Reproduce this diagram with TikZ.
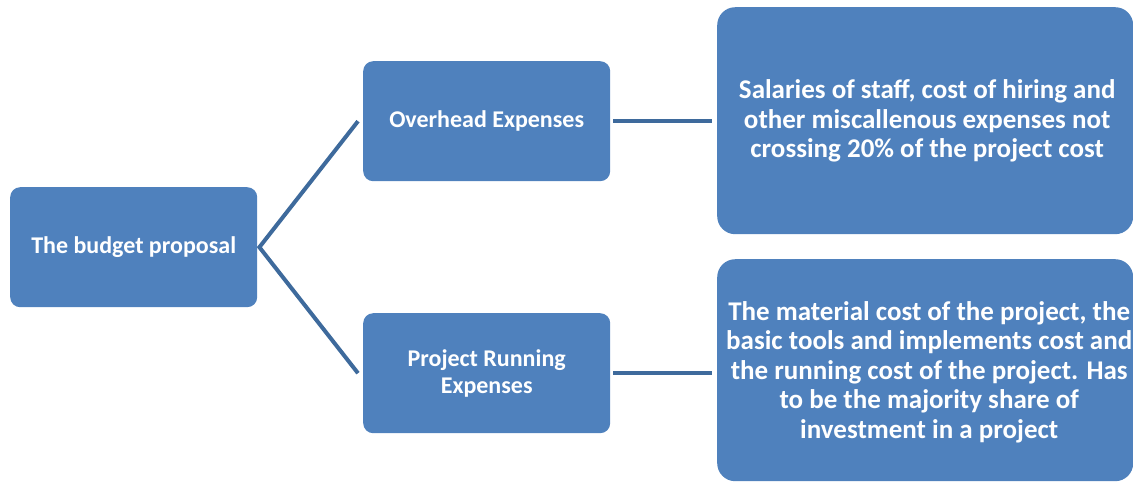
\documentclass[tikz,border=0pt]{standalone}
\usepackage{fontspec}
\setmainfont{Carlito}
\definecolor{boxblue}{HTML}{4F81BD}
\definecolor{lineblue}{HTML}{3E6A9C}
\begin{document}
\begin{tikzpicture}[x=1pt,y=-1pt,
  box/.style={fill=boxblue, draw=none, rounded corners=10pt, text=white, font=\bfseries\fontsize{24}{27}\selectfont, align=center, anchor=north west, inner sep=0pt},
  bigbox/.style={box, rounded corners=18pt},
  bigtext/.style={text=white, font=\bfseries\fontsize{27}{29.5}\selectfont, align=center, inner sep=0pt},
  link/.style={draw=lineblue, line width=4pt}]
\useasboundingbox (0,0) rectangle (1133,483);
\node[box, minimum width=247pt, minimum height=120pt] (root) at (10,187) {The budget proposal};
\node[box, minimum width=247pt, minimum height=120pt] (over) at (363,61) {Overhead Expenses};
\node[box, minimum width=247pt, minimum height=120pt] (run) at (363,313) {Project Running\\Expenses};
\node[bigbox, minimum width=416pt, minimum height=227pt] (sal) at (717,7) {};
\node[bigbox, minimum width=416pt, minimum height=222pt] (mat) at (717,259) {};
\node[bigtext] (saltext) at ([xshift=2pt]sal.center |- over.center) {Salaries of staff, cost of hiring and\\other miscallenous expenses not\\crossing 20\% of the project cost};
\node[bigtext] (mattext) at ([xshift=4pt,yshift=-2pt]mat.center) {The material cost of the project, the\\basic tools and implements cost and\\the running cost of the project. Has\\to be the majority share of\\investment in a project};
\coordinate (fork) at ([xshift=2pt]root.east);
\coordinate (oin) at ([xshift=-5pt]over.west);
\coordinate (rin) at ([xshift=-5pt]run.west);
\draw[link] (oin) -- (fork) -- (rin);
\draw[link] ([xshift=3pt]over.east) -- ([xshift=-5pt]over.east -| sal.west);
\draw[link] ([xshift=3pt]run.east) -- ([xshift=-5pt]run.east -| mat.west);
\end{tikzpicture}
\end{document}
